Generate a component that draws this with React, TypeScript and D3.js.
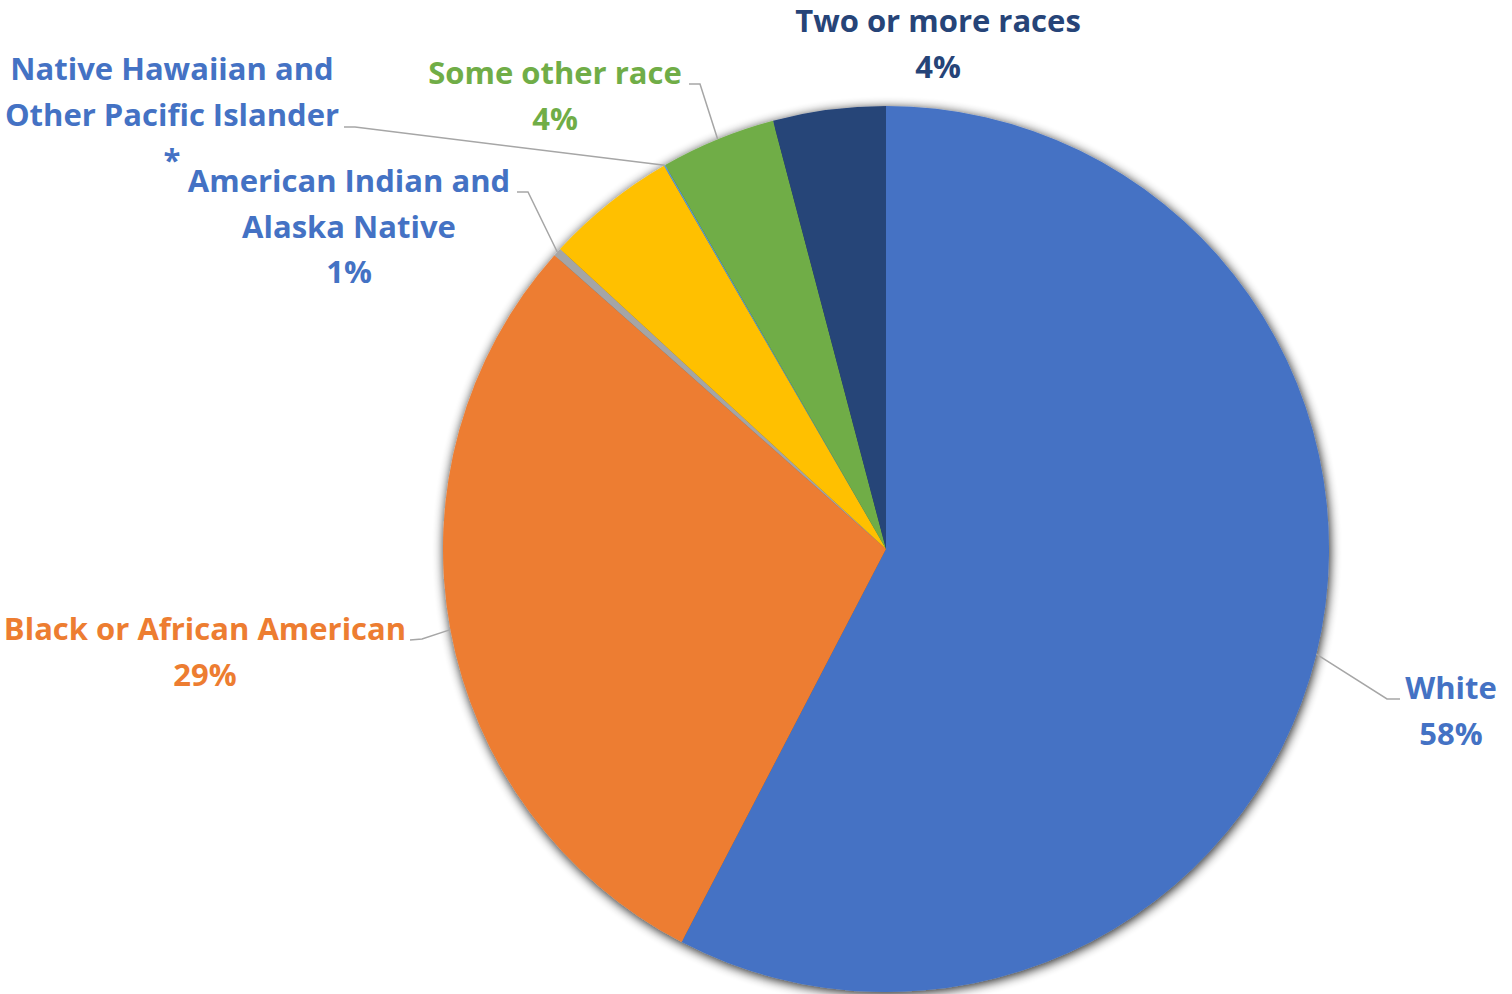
import React from "react";
import * as d3 from "d3";

const categories = [
  "White",
  "Black or African American",
  "American Indian and Alaska Native",
  "Asian",
  "Native Hawaiian and Other Pacific Islander",
  "Some other race",
  "Two or more races",
];
const values = [57.6, 28.9, 0.3, 4.8, 0.05, 4.2, 4.1];
const sliceColors = ["#4472C4", "#ED7D31", "#A5A5A5", "#FFC000", "#5B9BD5", "#70AD47", "#264478"];
const labelLines: (string[] | null)[] = [
  ["White", "58%"],
  ["Black or African American", "29%"],
  ["American Indian and", "Alaska Native", "1%"],
  null,
  ["Native Hawaiian and", "Other Pacific Islander", "*"],
  ["Some other race", "4%"],
  ["Two or more races", "4%"],
];
const labelColors = ["#4472C4", "#ED7D31", "#4472C4", "#FFC000", "#4472C4", "#70AD47", "#264478"];

// layout: text centre x, first baseline y, elbow point (near label) for leader
const layout: ({ x: number; y: number; elbow?: [number, number][] } | null)[] = [
  { x: 1451, y: 699, elbow: [[1400, 699], [1387, 699]] },
  { x: 205, y: 640, elbow: [[410, 640], [422, 639]] },
  { x: 349, y: 192, elbow: [[517, 192], [528, 192]] },
  null,
  { x: 172, y: 80, elbow: [[344, 127], [355, 127]] },
  { x: 555, y: 84, elbow: [[689, 84], [700, 84]] },
  { x: 938, y: 32 },
];

const W = 1512;
const H = 994;
const cx = 886;
const cy = 549;
const R = 443;
const lineGap = 45.5;

export default function App() {
  const pie = d3.pie<number>().sort(null).startAngle(0).endAngle(2 * Math.PI);
  const arcs = pie(values);
  const arc = d3.arc<d3.PieArcDatum<number>>().innerRadius(0).outerRadius(R);

  return (
    <svg width={W} height={H} style={{ position: "absolute", left: 0, top: 0 }}>
      <defs>
        <filter id="sh" x="-10%" y="-10%" width="120%" height="120%">
          <feGaussianBlur in="SourceAlpha" stdDeviation="5.5" />
          <feOffset dx="1" dy="2" result="b" />
          <feComponentTransfer>
            <feFuncA type="linear" slope="0.9" />
          </feComponentTransfer>
          <feMerge>
            <feMergeNode />
            <feMergeNode in="SourceGraphic" />
          </feMerge>
        </filter>
      </defs>
      <rect width={W} height={H} fill="#fff" />
      <g transform={`translate(${cx},${cy})`} filter="url(#sh)">
        {arcs.map((a, i) => (
          <path key={categories[i]} d={arc(a) || ""} fill={sliceColors[i]} />
        ))}
      </g>
      {arcs.map((a, i) => {
        const L = layout[i];
        if (!L || !L.elbow) return null;
        const mid = (a.startAngle + a.endAngle) / 2;
        const px = cx + R * Math.sin(mid);
        const py = cy - R * Math.cos(mid);
        const pts: [number, number][] = [...L.elbow, [px, py]];
        return (
          <path
            key={"l" + i}
            d={d3.line()(pts) || ""}
            fill="none"
            stroke="#A6A6A6"
            strokeWidth={1.5}
          />
        );
      })}
      {labelLines.map((lines, i) => {
        const L = layout[i];
        if (!lines || !L) return null;
        return (
          <text
            key={"t" + i}
            x={L.x}
            y={L.y}
            textAnchor="middle"
            fill={labelColors[i]}
            fontFamily="'Open Sans', sans-serif"
            fontWeight={700}
            fontSize={31}
          >
            {lines.map((s, j) => (
              <tspan key={j} x={L.x} y={L.y + j * lineGap}>
                {s}
              </tspan>
            ))}
          </text>
        );
      })}
    </svg>
  );
}
